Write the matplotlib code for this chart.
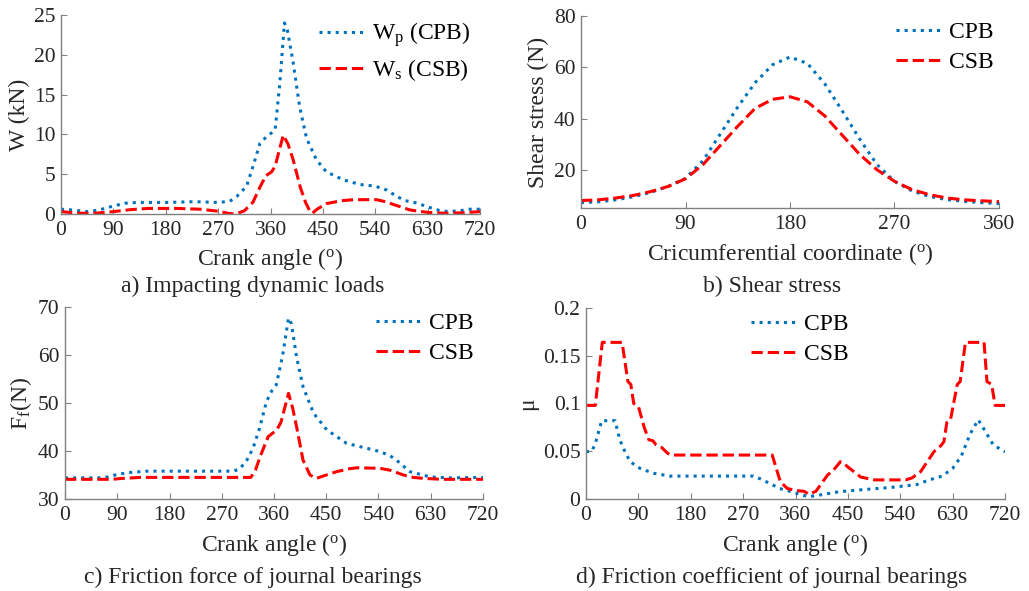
import matplotlib
matplotlib.use("Agg")
import matplotlib.pyplot as plt

plt.rcParams.update({
    "font.family": "serif", "font.serif": ["Liberation Serif", "DejaVu Serif"],
    "mathtext.fontset": "custom", "mathtext.rm": "Liberation Serif",
    "mathtext.it": "Liberation Serif:italic",
    "font.size": 15, "axes.linewidth": 1.0,
    "xtick.direction": "in", "ytick.direction": "in",
    "xtick.major.size": 4, "ytick.major.size": 4,
})

C_CPB, C_CSB = "#0072BD", "#FF0000"
AX_COL = "#808080"
TXT = "#262626"

# a) impacting dynamic loads (kN)
a_x_p = [0, 20, 45, 65, 90, 110, 130, 180, 230, 270, 290, 302, 319, 330, 342, 353, 362, 368,
         376, 384, 389, 399, 410, 422, 439, 456, 485, 514, 540, 560, 575, 590, 610, 630, 650,
         665, 685, 700, 720]
a_wp = [0.6, 0.5, 0.3, 0.5, 1.0, 1.35, 1.45, 1.45, 1.55, 1.45, 1.6, 2.2, 3.5, 6.0, 8.9, 9.7, 10.2,
        10.6, 16.4, 24.0, 23.1, 19.0, 13.5, 9.5, 6.8, 5.3, 4.3, 3.7, 3.5, 3.0, 2.3, 1.7, 1.4, 0.9,
        0.45, 0.3, 0.4, 0.6, 0.6]
a_x_s = [0, 30, 60, 90, 120, 150, 200, 240, 270, 290, 300, 315, 330, 342, 352, 362, 368, 375,
         382, 390, 399, 411, 420, 428, 432, 440, 456, 480, 502, 542, 560, 571, 600, 630, 660,
         690, 720]
a_ws = [0.3, 0.1, 0.1, 0.3, 0.55, 0.7, 0.7, 0.6, 0.35, 0.05, 0.0, 0.4, 1.5, 3.4, 4.8, 5.3, 6.0,
        8.0, 9.9, 8.8, 6.8, 3.4, 1.5, 0.3, 0.1, 0.6, 1.3, 1.65, 1.8, 1.8, 1.5, 1.2, 0.5, 0.2,
        0.1, 0.15, 0.3]

# b) shear stress (N) vs circumferential coordinate
b_x = [0, 15, 30, 45, 60, 75, 90, 105, 120, 135, 150, 165, 180, 195, 210, 225, 240, 255, 270,
       285, 300, 315, 330, 345, 360]
b_cpb = [7.2, 7.5, 8.3, 9.5, 11.2, 13.5, 16.7, 23.5, 34.0, 44.5, 54.0, 61.0, 64.0, 61.5, 53.5,
         43.0, 32.0, 22.0, 15.5, 11.8, 9.6, 8.4, 7.7, 7.2, 6.8]
b_csb = [8.0, 8.3, 9.0, 10.0, 11.5, 13.5, 16.5, 22.0, 29.5, 37.0, 44.0, 47.5, 48.5, 46.5, 41.0,
         33.5, 26.0, 20.0, 15.5, 12.3, 10.3, 9.0, 8.3, 7.9, 7.6]

# c) friction force (N)
c_x_p = [0, 60, 75, 89, 110, 141, 290, 300, 312, 324, 335, 347, 356, 364, 375, 385, 390, 399,
         410, 428, 451, 485, 542, 560, 571, 594, 629, 663, 720]
c_cpb = [34.4, 34.4, 34.6, 35.1, 35.5, 35.8, 35.8, 36.2, 37.8, 40.6, 44.7, 50.3, 52.5, 53.8,
         60.0, 67.7, 66.5, 59.5, 53.4, 47.9, 44.4, 41.6, 39.9, 39.0, 38.1, 35.7, 34.6, 34.4, 34.5]
c_x_s = [0, 80, 100, 130, 320, 328, 336, 350, 365, 372, 385, 392, 399, 410, 422, 433, 450, 468,
         490, 502, 542, 560, 583, 600, 617, 650, 720]
c_csb = [34.1, 34.1, 34.3, 34.5, 34.5, 36.0, 38.8, 43.0, 44.4, 46.0, 52.0, 49.0, 45.0, 38.1,
         35.0, 34.3, 35.0, 35.7, 36.3, 36.5, 36.4, 36.0, 35.0, 34.5, 34.3, 34.1, 34.1]

# d) friction coefficient
d_x_p = [0, 10, 16, 27, 50, 58, 67, 76, 93, 116, 144, 287, 300, 310, 333, 356, 382, 400, 436,
         480, 522, 568, 590, 612, 630, 645, 660, 674, 688, 700, 720]
d_cpb = [0.0495, 0.05, 0.058, 0.082, 0.082, 0.062, 0.0495, 0.039, 0.032, 0.027, 0.024, 0.024,
         0.021, 0.018, 0.011, 0.007, 0.0024, 0.004, 0.0077, 0.010, 0.012, 0.015, 0.020, 0.024,
         0.032, 0.045, 0.068, 0.083, 0.069, 0.0565, 0.0495]
d_x_s = [0, 16, 28, 62, 72, 77, 82, 90, 100, 108, 115, 120, 130, 140, 146, 320, 334, 346, 360,
         375, 383, 395, 415, 425, 437, 442, 449, 472, 495, 549, 560, 575, 598, 610, 615, 620,
         626, 638, 643, 652, 684, 689, 697, 703, 720]
d_csb = [0.098, 0.098, 0.164, 0.164, 0.123, 0.12, 0.1, 0.097, 0.075, 0.062, 0.061, 0.057, 0.054,
         0.048, 0.046, 0.046, 0.018, 0.011, 0.009, 0.008, 0.005, 0.008, 0.025, 0.030, 0.039,
         0.038, 0.034, 0.023, 0.020, 0.020, 0.022, 0.0286, 0.0496, 0.056, 0.060, 0.080, 0.082,
         0.120, 0.123, 0.164, 0.164, 0.123, 0.120, 0.098, 0.098]

crank_ticks = [0, 90, 180, 270, 360, 450, 540, 630, 720]
crank_label = "Crank angle ($^\\mathrm{o}$)"

W, H = 1029, 591
LAB = 17


def px_axes(fig, x0, y0, x1, y1):
    return fig.add_axes([x0 / W, 1 - y1 / H, (x1 - x0) / W, (y1 - y0) / H])


def style(ax):
    for s in ("top", "right"):
        ax.spines[s].set_visible(False)
    for s in ("left", "bottom"):
        ax.spines[s].set_color(AX_COL)
    ax.tick_params(colors=AX_COL, labelcolor=TXT, labelsize=15.5)
    ax.tick_params(axis="x", pad=5)
    ax.tick_params(axis="y", pad=4)


def legend(ax, **kw):
    ax.legend(frameon=False, fontsize=LAB, handlelength=2.0, borderaxespad=0.0,
              labelspacing=0.35, handletextpad=0.25, **kw)


fig = plt.figure(figsize=(W / 100, H / 100), dpi=100)

# a
ax = px_axes(fig, 61, 15, 480, 214)
ax.plot(a_x_p, a_wp, ls=":", color=C_CPB, lw=2.2, label="W$_\\mathrm{p}$ (CPB)")
ax.plot(a_x_s, a_ws, ls="--", color=C_CSB, lw=2.2, label="W$_\\mathrm{s}$ (CSB)")
ax.set_xlim(0, 720); ax.set_ylim(0, 25)
ax.set_xticks(crank_ticks); ax.set_yticks([0, 5, 10, 15, 20, 25])
ax.set_xlabel(crank_label, fontsize=LAB, color=TXT, labelpad=4)
ax.set_ylabel("W (kN)", fontsize=LAB, color=TXT, labelpad=3)
style(ax)
legend(ax, loc="upper right", bbox_to_anchor=(1.0, 1.02))

# b
ax = px_axes(fig, 581, 16, 999, 208)
ax.plot(b_x, b_cpb, ls=":", color=C_CPB, lw=2.2, label="CPB")
ax.plot(b_x, b_csb, ls="--", color=C_CSB, lw=2.2, label="CSB")
ax.set_xlim(0, 360); ax.set_ylim(5.1, 80)
ax.set_xticks([0, 90, 180, 270, 360]); ax.set_yticks([20, 40, 60, 80])
ax.set_xlabel("Cricumferential coordinate ($^\\mathrm{o}$)", fontsize=LAB, color=TXT, labelpad=5)
ax.set_ylabel("Shear stress (N)", fontsize=LAB, color=TXT, labelpad=3)
style(ax)
legend(ax, loc="upper right", bbox_to_anchor=(1.01, 1.02))

# c
ax = px_axes(fig, 65, 307, 483, 499)
ax.plot(c_x_p, c_cpb, ls=":", color=C_CPB, lw=2.2, label="CPB")
ax.plot(c_x_s, c_csb, ls="--", color=C_CSB, lw=2.2, label="CSB")
ax.set_xlim(0, 720); ax.set_ylim(30, 70)
ax.set_xticks(crank_ticks); ax.set_yticks([30, 40, 50, 60, 70])
ax.set_xlabel(crank_label, fontsize=LAB, color=TXT, labelpad=5)
ax.set_ylabel("F$_\\mathrm{f}$(N)", fontsize=LAB, color=TXT, labelpad=3)
style(ax)
legend(ax, loc="upper right", bbox_to_anchor=(1.0, 1.02))

# d
ax = px_axes(fig, 586, 308, 1005, 499)
ax.plot(d_x_p, d_cpb, ls=":", color=C_CPB, lw=2.2, label="CPB")
ax.plot(d_x_s, d_csb, ls="--", color=C_CSB, lw=2.2, label="CSB")
ax.set_xlim(0, 720); ax.set_ylim(0, 0.2)
ax.set_xticks(crank_ticks); ax.set_yticks([0, 0.05, 0.1, 0.15, 0.2])
ax.set_yticklabels(["0", "0.05", "0.1", "0.15", "0.2"])
ax.set_xlabel(crank_label, fontsize=LAB, color=TXT, labelpad=5)
ax.set_ylabel("μ", fontsize=LAB, color=TXT, labelpad=3)
style(ax)
legend(ax, loc="upper center", bbox_to_anchor=(0.51, 1.02))

# captions
cap = dict(ha="center", va="center", fontsize=LAB, color=TXT)
fig.text(253 / W, 1 - 286 / H, "a) Impacting dynamic loads", **cap)
fig.text(772 / W, 1 - 286 / H, "b) Shear stress", **cap)
fig.text(253 / W, 1 - 577 / H, "c) Friction force of journal bearings", **cap)
fig.text(772 / W, 1 - 577 / H, "d) Friction coefficient of journal bearings", **cap)

fig.savefig("out.png", dpi=100)
